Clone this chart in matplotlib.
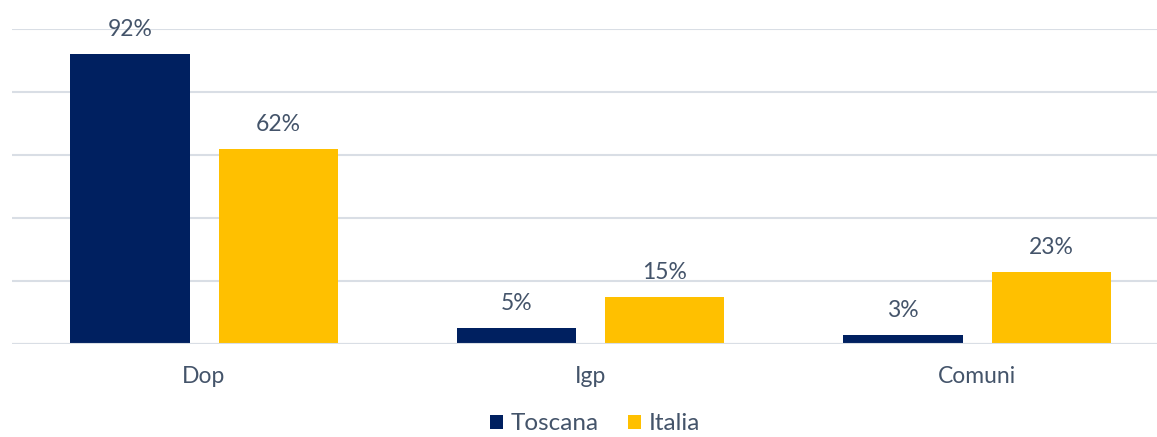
import matplotlib
matplotlib.use("Agg")
import matplotlib.pyplot as plt
import numpy as np

categories = ["Dop", "Igp", "Comuni"]
toscana = [92, 5, 3]
italia = [62, 15, 23]
series_names = ["Toscana", "Italia"]
labels_toscana = ["92%", "5%", "3%"]
labels_italia = ["62%", "15%", "23%"]

navy = "#002060"
gold = "#FFC000"
text_col = "#44546A"
grid_col = "#D9DEE5"

plt.rcParams['font.family'] = ['Lato', 'DejaVu Sans']

fig = plt.figure(figsize=(11.57, 4.37), dpi=100)
ax = fig.add_axes([12/1157, (437-344)/437, 1 - 12/1157, (344-29)/437])

x = np.arange(len(categories))
w = 0.308
off = 0.1915
b1 = ax.bar(x - off, toscana, w, color=navy, label=series_names[0], zorder=3)
b2 = ax.bar(x + off, italia, w, color=gold, label=series_names[1], zorder=3)

for bars, labs in ((b1, labels_toscana), (b2, labels_italia)):
    for r, t in zip(bars, labs):
        ax.annotate(t, (r.get_x() + r.get_width()/2, r.get_height()),
                    xytext=(0, 10), textcoords="offset points",
                    ha="center", va="bottom", fontsize=16.5, color=text_col)

ax.set_xlim(-0.4968, 2.4657)
ax.set_ylim(0, 100)
ax.set_yticks([0, 20, 40, 60, 80, 100])
ax.yaxis.grid(True, color=grid_col, linewidth=1.5, zorder=0)
ax.tick_params(axis='y', left=False, labelleft=False)
ax.set_xticks(x)
ax.set_xticklabels(categories, fontsize=16.5, color=text_col)
ax.tick_params(axis='x', length=0, pad=16)
for s in ax.spines.values():
    s.set_visible(False)
ax.axhline(0, color=grid_col, linewidth=1.5, zorder=4)

leg = fig.legend(handles=[b1, b2], labels=series_names, loc="center",
                 bbox_to_anchor=(595/1157, 1 - 424/437), ncol=2, frameon=False,
                 prop={'size': 17.5},
                 handlelength=0.55, handleheight=0.55,
                 handletextpad=0.3, columnspacing=1.2)
for t in leg.get_texts():
    t.set_color(text_col)

fig.savefig("out.png", dpi=100)
